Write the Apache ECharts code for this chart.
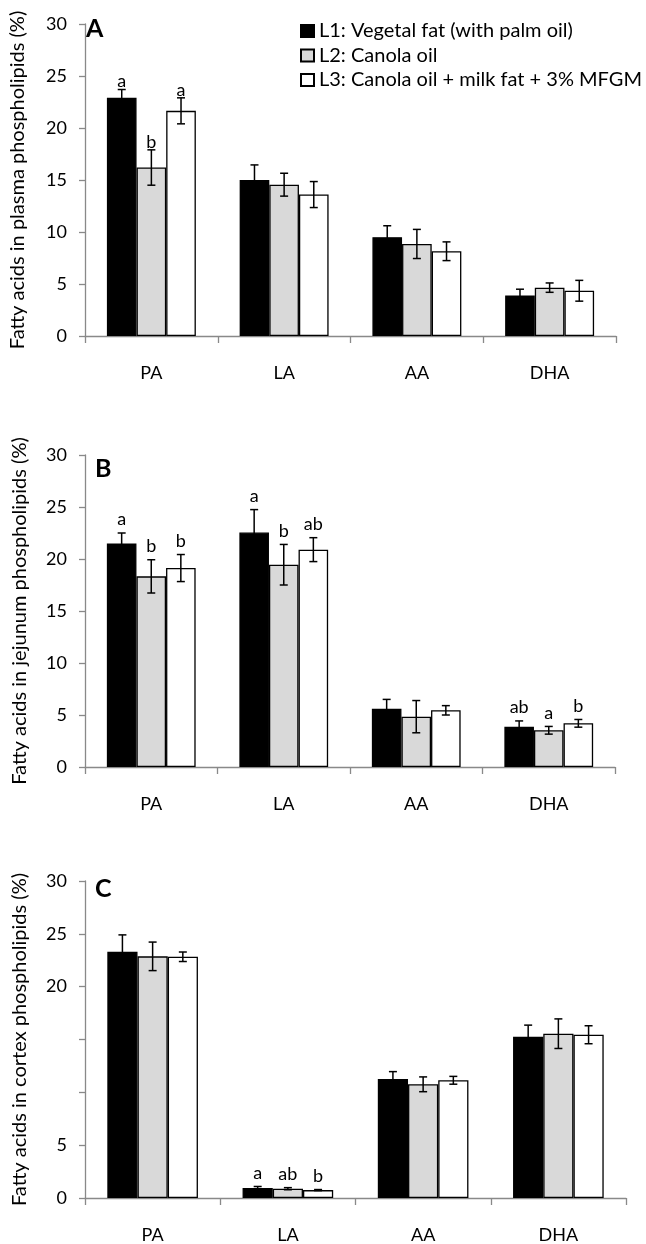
<!DOCTYPE html>
<html>
<head>
<meta charset="utf-8">
<script src="https://cdn.jsdelivr.net/npm/echarts@6/dist/echarts.min.js"></script>
<style>
html, body { margin: 0; padding: 0; background: #fff; }
#chart { width: 646px; height: 1244px; }
</style>
</head>
<body>
<div id="chart"></div>
<script>
var categories = ["PA", "LA", "AA", "DHA"];
var groupNames = ["L1: Vegetal fat (with palm oil)", "L2: Canola oil", "L3: Canola oil + milk fat + 3% MFGM"];
var yTicksAB = ["0", "5", "10", "15", "20", "25", "30"];
var yTicksC = ["0", "5", "", "", "20", "25", "30"];  // 10 and 15 have no label in C

// A: plasma
var plasmaL1 = [22.9, 15.0, 9.5, 3.9];
var plasmaL2 = [16.2, 14.55, 8.85, 4.65];
var plasmaL3 = [21.65, 13.6, 8.15, 4.35];
var plasmaErrL1 = [0.8, 1.45, 1.1, 0.6];
var plasmaErrL2 = [1.7, 1.1, 1.4, 0.45];
var plasmaErrL3 = [1.25, 1.25, 0.9, 1.0];
var plasmaLetL1 = ["a", "", "", ""];
var plasmaLetL2 = ["b", "", "", ""];
var plasmaLetL3 = ["a", "", "", ""];

// B: jejunum
var jejunumL1 = [21.5, 22.55, 5.6, 3.88];
var jejunumL2 = [18.33, 19.45, 4.84, 3.53];
var jejunumL3 = [19.13, 20.9, 5.45, 4.2];
var jejunumErrL1 = [1.0, 2.2, 0.9, 0.55];
var jejunumErrL2 = [1.6, 1.95, 1.55, 0.37];
var jejunumErrL3 = [1.3, 1.15, 0.45, 0.37];
var jejunumLetL1 = ["a", "a", "", "ab"];
var jejunumLetL2 = ["b", "b", "", "a"];
var jejunumLetL3 = ["b", "ab", "", "b"];

// C: cortex
var cortexL1 = [23.3, 0.94, 11.26, 15.26];
var cortexL2 = [22.87, 0.88, 10.76, 15.55];
var cortexL3 = [22.83, 0.75, 11.14, 15.45];
var cortexErrL1 = [1.6, 0.15, 0.7, 1.1];
var cortexErrL2 = [1.35, 0.1, 0.7, 1.4];
var cortexErrL3 = [0.45, 0.05, 0.37, 0.85];
var cortexLetL1 = ["", "a", "", ""];
var cortexLetL2 = ["", "ab", "", ""];
var cortexLetL3 = ["", "b", "", ""];

var FONT = "Lato";
var FS = 18;      // 目盛り・カテゴリ・文字
var FS_NAME = 20; // 軸名・凡例
var GAP = 0.33;   // barCategoryGap
var barColors = ["#000000", "#d9d9d9", "#ffffff"];
var axisGrey = "#898989";

var panels = [
    { vals: [plasmaL1, plasmaL2, plasmaL3], errs: [plasmaErrL1, plasmaErrL2, plasmaErrL3],
      lets: [plasmaLetL1, plasmaLetL2, plasmaLetL3], ticks: yTicksAB,
      name: "Fatty acids in plasma phospholipids (%)", letterOff: 8 },
    { vals: [jejunumL1, jejunumL2, jejunumL3], errs: [jejunumErrL1, jejunumErrL2, jejunumErrL3],
      lets: [jejunumLetL1, jejunumLetL2, jejunumLetL3], ticks: yTicksAB,
      name: "Fatty acids in jejunum phospholipids (%)", letterOff: 13.5 },
    { vals: [cortexL1, cortexL2, cortexL3], errs: [cortexErrL1, cortexErrL2, cortexErrL3],
      lets: [cortexLetL1, cortexLetL2, cortexLetL3], ticks: yTicksC,
      name: "Fatty acids in cortex phospholipids (%)", letterOff: 13.5 }
];

var grids = [
    { left: 76, right: 30, top: 24, height: 312 },
    { left: 85, right: 31, top: 455, height: 312 },
    { left: 85, right: 20, top: 881, height: 319 }
];
var nameGaps = [57, 55, 55];

// エラーバーと有意差の文字を描く
function errRenderer(letters, k, letterOff) {
    return function (params, api) {
        var i = api.value(0), m = api.value(1), e = api.value(2);
        var band = api.size([1, 0])[0];
        var bw = band * (1 - GAP) / 3;
        var x = api.coord([i, m])[0] + (k - 1) * bw;
        var top = api.coord([i, m + e])[1];
        var bot = api.coord([i, m - e])[1];
        var ls = { stroke: "#000", lineWidth: 1.5 };
        var children = [
            { type: "line", shape: { x1: x, y1: top, x2: x, y2: bot }, style: ls },
            { type: "line", shape: { x1: x - 4, y1: top, x2: x + 4, y2: top }, style: ls },
            { type: "line", shape: { x1: x - 4, y1: bot, x2: x + 4, y2: bot }, style: ls }
        ];
        var t = letters[params.dataIndex];
        if (t) {
            children.push({ type: "text", style: { text: t, x: x, y: top - letterOff,
                align: "center", verticalAlign: "middle", fill: "#000",
                fontFamily: FONT, fontSize: FS } });
        }
        return { type: "group", children: children };
    };
}

var xAxes = [], yAxes = [], series = [];
panels.forEach(function (p, gi) {
    xAxes.push({
        type: "category", gridIndex: gi, data: categories,
        axisLine: { lineStyle: { color: axisGrey, width: 1.3 } },
        axisTick: { show: true, length: 7, lineStyle: { color: axisGrey, width: 1.3 } },
        axisLabel: { color: "#000", fontFamily: FONT, fontSize: FS, margin: 28 }
    });
    yAxes.push({
        type: "value", gridIndex: gi, min: 0, max: 30, interval: 5,
        name: p.name, nameLocation: "middle", nameGap: nameGaps[gi],
        nameTextStyle: { color: "#000", fontFamily: FONT, fontSize: FS_NAME },
        axisLine: { show: true, lineStyle: { color: axisGrey, width: 1.3 } },
        axisTick: { show: true, length: 6, lineStyle: { color: axisGrey, width: 1.3 } },
        splitLine: { show: false },
        axisLabel: { color: "#000", fontFamily: FONT, fontSize: FS, margin: 18,
            formatter: (function (ticks) {
                return function (v) { return ticks[Math.round(v / 5)]; };
            })(p.ticks) }
    });
    for (var k = 0; k < 3; k++) {
        series.push({
            name: groupNames[k], type: "bar", xAxisIndex: gi, yAxisIndex: gi,
            data: p.vals[k], barGap: "0%", barCategoryGap: (GAP * 100) + "%",
            itemStyle: { color: barColors[k], borderColor: "#000", borderWidth: 1.3 },
            emphasis: { disabled: true }, z: 2
        });
    }
    for (var k2 = 0; k2 < 3; k2++) {
        series.push({
            type: "custom", xAxisIndex: gi, yAxisIndex: gi,
            renderItem: errRenderer(p.lets[k2], k2, p.letterOff),
            encode: { x: 0, y: 1 },
            data: p.vals[k2].map(function (v, i) { return [i, v, p.errs[k2][i]]; }),
            z: 3, silent: true
        });
    }
});

var chart = echarts.init(document.getElementById("chart"));
chart.setOption({
    animation: false,
    textStyle: { fontFamily: FONT },
    grid: grids,
    xAxis: xAxes,
    yAxis: yAxes,
    legend: {
        orient: "vertical", left: 295, top: 16,
        itemWidth: 13, itemHeight: 12, itemGap: 4.5,
        icon: "rect", data: groupNames,
        textStyle: { color: "#000", fontFamily: FONT, fontSize: FS_NAME, lineHeight: 20 }
    },
    graphic: [
        { type: "text", left: 86, top: 16, style: { text: "A", fontFamily: FONT, fontWeight: "bold", fontSize: 25, fill: "#000" } },
        { type: "text", left: 95, top: 456, style: { text: "B", fontFamily: FONT, fontWeight: "bold", fontSize: 25, fill: "#000" } },
        { type: "text", left: 95, top: 876, style: { text: "C", fontFamily: FONT, fontWeight: "bold", fontSize: 25, fill: "#000" } }
    ],
    series: series
});
</script>
</body>
</html>
